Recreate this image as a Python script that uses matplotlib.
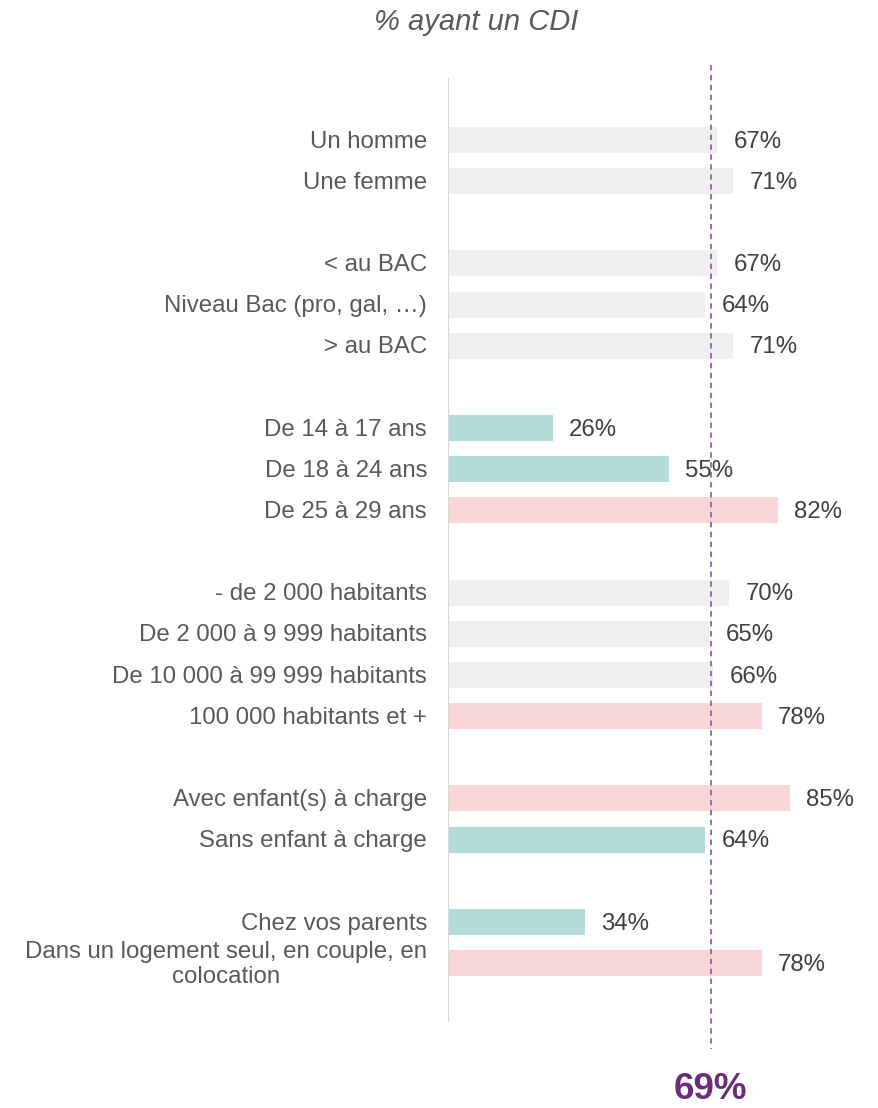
import numpy as np
import matplotlib.pyplot as plt

plt.rcParams['font.family'] = ['Liberation Sans', 'DejaVu Sans']

labels = ["Un homme", "Une femme",
          "< au BAC", "Niveau Bac (pro, gal, \u2026)", "> au BAC",
          "De 14 à 17 ans", "De 18 à 24 ans", "De 25 à 29 ans",
          "- de 2 000 habitants", "De 2 000 à 9 999 habitants",
          "De 10 000 à 99 999 habitants", "100 000 habitants et +",
          "Avec enfant(s) à charge", "Sans enfant à charge",
          "Chez vos parents", "Dans un logement seul, en couple, en\ncolocation"]
values = [67, 71, 67, 64, 71, 26, 55, 82, 70, 65, 66, 78, 85, 64, 34, 78]
# g = average, lo = below average, hi = above average
status = ["g", "g", "g", "g", "g", "lo", "lo", "hi", "g", "g", "g", "hi",
          "hi", "lo", "lo", "hi"]
group_sizes = [2, 3, 3, 4, 2, 2]
mean_label = "69%"
mean_pos = 65.3  # where the dashed line sits in the source picture

colors = {"g": "#efefef", "lo": "#b3dbd9", "hi": "#f9d6d6"}

# row positions with a blank row between groups
pos = []
y = 0
for n in group_sizes:
    for i in range(n):
        pos.append(y)
        y += 1
    y += 1
pos = np.array(pos)

fig = plt.figure(figsize=(8.79, 11.08), dpi=100)
ax = fig.add_axes([448 / 879, 1 - 1060 / 1108, (879 - 448) / 879, 1010 / 1108])
ax.set_xlim(0, 107.2)
ax.set_ylim(22.357, -2.187)
ax.axis('off')

ax.barh(pos, values, height=0.63, color=[colors[s] for s in status], zorder=1)

ax.plot([0, 0], [-1.51, 21.43], color="#d9d9d9", lw=1.5, zorder=2,
        solid_capstyle='butt')
ax.plot([mean_pos, mean_pos], [-1.82, 22.1], color="#93619f", lw=1.3,
        ls=(0, (3, 2.5)), zorder=3)

for p, v, lab in zip(pos, values, labels):
    ax.text(v + 4, p + 0.04, f"{v}%", ha='left', va='center', fontsize=17.3,
            color="#404040", zorder=4)
    ax.text(-5.2, p + 0.04, lab, ha='right', va='center', fontsize=17.3,
            color="#595959", multialignment='center')

fig.text(476 / 879, 1 - 22 / 1108, "% ayant un CDI", ha='center', va='center',
         fontsize=21, style='italic', color="#595959")
ax.text(mean_pos, 23.08, mean_label, ha='center', va='center', fontsize=26.5,
        fontweight='bold', color="#6b2d7b", clip_on=False)

fig.savefig("out.png", dpi=100)
